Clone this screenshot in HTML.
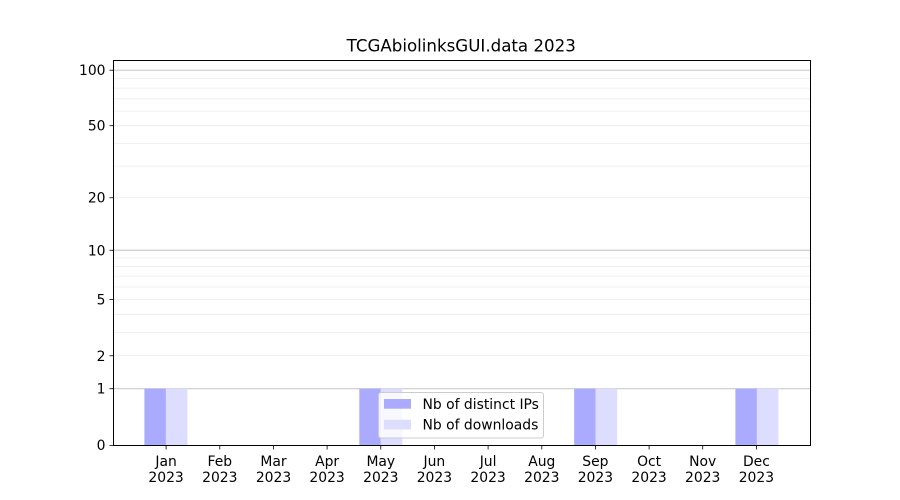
<!DOCTYPE html>
<html>
<head>
<meta charset="utf-8">
<style>
html,body{margin:0;padding:0;background:#fff;}
svg{display:block;}
text{font-family:"DejaVu Sans","Liberation Sans",sans-serif;fill:#000;}
</style>
</head>
<body>
<svg width="900" height="500" viewBox="0 0 900 500" xmlns="http://www.w3.org/2000/svg">
<rect x="0" y="0" width="900" height="500" fill="#fff"/>
<!-- minor gridlines -->
<g stroke="#ebebeb" stroke-width="0.8">
<line x1="112.5" x2="810" y1="355.78" y2="355.78"/>
<line x1="112.5" x2="810" y1="332.41" y2="332.41"/>
<line x1="112.5" x2="810" y1="314.29" y2="314.29"/>
<line x1="112.5" x2="810" y1="299.49" y2="299.49"/>
<line x1="112.5" x2="810" y1="286.97" y2="286.97"/>
<line x1="112.5" x2="810" y1="276.12" y2="276.12"/>
<line x1="112.5" x2="810" y1="266.56" y2="266.56"/>
<line x1="112.5" x2="810" y1="258" y2="258"/>
<line x1="112.5" x2="810" y1="197.74" y2="197.74"/>
<line x1="112.5" x2="810" y1="166.12" y2="166.12"/>
<line x1="112.5" x2="810" y1="143.41" y2="143.41"/>
<line x1="112.5" x2="810" y1="125.68" y2="125.68"/>
<line x1="112.5" x2="810" y1="111.14" y2="111.14"/>
<line x1="112.5" x2="810" y1="98.81" y2="98.81"/>
<line x1="112.5" x2="810" y1="88.11" y2="88.11"/>
<line x1="112.5" x2="810" y1="78.66" y2="78.66"/>
</g>
<!-- major gridlines -->
<g stroke="#cccccc" stroke-width="1.2">
<line x1="112.5" x2="810" y1="388.71" y2="388.71"/>
<line x1="112.5" x2="810" y1="250.26" y2="250.26"/>
<line x1="112.5" x2="810" y1="70.19" y2="70.19"/>
</g>
<!-- bars -->
<g>
<rect x="144.4" y="388.71" width="21.5" height="56.29" fill="#aaaaff"/>
<rect x="165.9" y="388.71" width="21.5" height="56.29" fill="#ddddff"/>
<rect x="359.3" y="388.71" width="21.5" height="56.29" fill="#aaaaff"/>
<rect x="380.8" y="388.71" width="21.5" height="56.29" fill="#ddddff"/>
<rect x="574.2" y="388.71" width="21.5" height="56.29" fill="#aaaaff"/>
<rect x="595.7" y="388.71" width="21.5" height="56.29" fill="#ddddff"/>
<rect x="735.4" y="388.71" width="21.5" height="56.29" fill="#aaaaff"/>
<rect x="756.9" y="388.71" width="21.5" height="56.29" fill="#ddddff"/>
</g>
<!-- axes frame -->
<rect x="113.5" y="60.5" width="697" height="385" fill="none" stroke="#000" stroke-width="1"/>
<!-- y ticks -->
<g stroke="#000" stroke-width="0.8">
<line x1="109.5" x2="113" y1="445.5" y2="445.5"/>
<line x1="109.5" x2="113" y1="388.71" y2="388.71"/>
<line x1="109.5" x2="113" y1="355.78" y2="355.78"/>
<line x1="109.5" x2="113" y1="299.49" y2="299.49"/>
<line x1="109.5" x2="113" y1="250.26" y2="250.26"/>
<line x1="109.5" x2="113" y1="197.74" y2="197.74"/>
<line x1="109.5" x2="113" y1="125.68" y2="125.68"/>
<line x1="109.5" x2="113" y1="70.19" y2="70.19"/>
</g>
<g font-size="13.9" text-anchor="end">
<text x="105.5" y="450">0</text>
<text x="105.5" y="393.7">1</text>
<text x="105.5" y="360.8">2</text>
<text x="105.5" y="304.5">5</text>
<text x="105.5" y="255.3">10</text>
<text x="105.5" y="202.7">20</text>
<text x="105.5" y="130.7">50</text>
<text x="105.5" y="75.2">100</text>
</g>
<!-- x ticks -->
<g stroke="#000" stroke-width="0.8">
<line x1="166.1" x2="166.1" y1="446" y2="449.5"/>
<line x1="219.8" x2="219.8" y1="446" y2="449.5"/>
<line x1="273.5" x2="273.5" y1="446" y2="449.5"/>
<line x1="327.1" x2="327.1" y1="446" y2="449.5"/>
<line x1="380.8" x2="380.8" y1="446" y2="449.5"/>
<line x1="434.4" x2="434.4" y1="446" y2="449.5"/>
<line x1="488.1" x2="488.1" y1="446" y2="449.5"/>
<line x1="541.8" x2="541.8" y1="446" y2="449.5"/>
<line x1="595.4" x2="595.4" y1="446" y2="449.5"/>
<line x1="649.1" x2="649.1" y1="446" y2="449.5"/>
<line x1="702.7" x2="702.7" y1="446" y2="449.5"/>
<line x1="756.4" x2="756.4" y1="446" y2="449.5"/>
</g>
<g font-size="13.9" text-anchor="middle">
<text x="166.1" y="466">Jan</text><text x="166.1" y="482">2023</text>
<text x="219.8" y="466">Feb</text><text x="219.8" y="482">2023</text>
<text x="273.5" y="466">Mar</text><text x="273.5" y="482">2023</text>
<text x="327.1" y="466">Apr</text><text x="327.1" y="482">2023</text>
<text x="380.8" y="466">May</text><text x="380.8" y="482">2023</text>
<text x="434.4" y="466">Jun</text><text x="434.4" y="482">2023</text>
<text x="488.1" y="466">Jul</text><text x="488.1" y="482">2023</text>
<text x="541.8" y="466">Aug</text><text x="541.8" y="482">2023</text>
<text x="595.4" y="466">Sep</text><text x="595.4" y="482">2023</text>
<text x="649.1" y="466">Oct</text><text x="649.1" y="482">2023</text>
<text x="702.7" y="466">Nov</text><text x="702.7" y="482">2023</text>
<text x="756.4" y="466">Dec</text><text x="756.4" y="482">2023</text>
</g>
<!-- title -->
<text x="461.25" y="51.5" font-size="16.67" text-anchor="middle">TCGAbiolinksGUI.data 2023</text>
<!-- legend -->
<rect x="378.5" y="392.5" width="165" height="45.5" rx="2.5" ry="2.5" fill="#fff" fill-opacity="0.8" stroke="#cccccc" stroke-width="1"/>
<rect x="384" y="399" width="27" height="9.7" fill="#aaaaff"/>
<rect x="384" y="419.7" width="27" height="9.7" fill="#ddddff"/>
<g font-size="13.9">
<text x="422.5" y="408.8">Nb of distinct IPs</text>
<text x="422.5" y="429.5">Nb of downloads</text>
</g>
</svg>
</body>
</html>
